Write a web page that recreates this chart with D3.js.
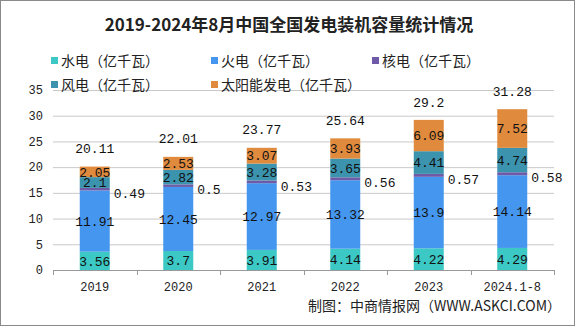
<!DOCTYPE html>
<html><head><meta charset="utf-8">
<script src="https://cdn.jsdelivr.net/npm/d3@7"></script>
<style>html,body{margin:0;padding:0;background:#fff}svg{display:block}</style>
</head><body>
<svg id="c" width="575" height="326"></svg>
<script>
const categories = ["2019","2020","2021","2022","2023","2024.1-8"];
const hydro   = [3.56, 3.7, 3.91, 4.14, 4.22, 4.29];
const thermal = [11.91, 12.45, 12.97, 13.32, 13.9, 14.14];
const nuclear = [0.49, 0.5, 0.53, 0.56, 0.57, 0.58];
const wind    = [2.1, 2.82, 3.28, 3.65, 4.41, 4.74];
const solar   = [2.05, 2.53, 3.07, 3.93, 6.09, 7.52];
const totals  = [20.11, 22.01, 23.77, 25.64, 29.2, 31.28];
const seriesNames = ["水电（亿千瓦）","火电（亿千瓦）","核电（亿千瓦）","风电（亿千瓦）","太阳能发电（亿千瓦）"];
const yTicks = [0,5,10,15,20,25,30,35];
const colors = ["#3cc8c4","#4596ee","#6e5aa6","#3b93ad","#e08a3e"];
const seriesData = [hydro, thermal, nuclear, wind, solar];

const svg = d3.select("#c");
const W = 575, H = 326;
const mono = "'Liberation Mono','DejaVu Sans Mono',monospace";
const cjk = "'Noto Sans CJK SC','Noto Sans',sans-serif";

svg.append("rect").attr("x",0.5).attr("y",0.5).attr("width",W-1).attr("height",H-1)
  .attr("fill","#fff").attr("stroke","#8a8a8a");

const x = d3.scaleBand().domain(categories).range([53,554]).paddingInner(0).paddingOuter(0);
const y = d3.scaleLinear().domain([0,35]).range([270,90]);
const bw = 30;

// gridlines
svg.append("g").selectAll("line").data(yTicks.filter(d=>d>0)).join("line")
  .attr("x1",53).attr("x2",554).attr("y1",d=>y(d)+0.5).attr("y2",d=>y(d)+0.5)
  .attr("stroke","#c9c9c9");

// y labels
svg.append("g").selectAll("text").data(yTicks).join("text")
  .attr("x",43).attr("y",d=>y(d)).attr("dy","0.36em").attr("text-anchor","end")
  .attr("font-family",mono).attr("font-size",12).attr("fill","#222").text(d=>d);

// stacks
const rows = categories.map((c,i)=>{const o={cat:c}; seriesData.forEach((s,k)=>o["s"+k]=s[i]); return o;});
const stack = d3.stack().keys([0,1,2,3,4].map(k=>"s"+k))(rows);
const gBars = svg.append("g");
stack.forEach((layer,k)=>{
  gBars.selectAll(null).data(layer).join("rect")
    .attr("x",d=>x(d.data.cat)+x.bandwidth()/2-bw/2)
    .attr("width",bw)
    .attr("y",d=>y(d[1]))
    .attr("height",d=>y(d[0])-y(d[1]))
    .attr("fill",colors[k]);
});

const fmt = v => String(v);
const lbl = svg.append("g").attr("font-family",mono).attr("font-size",13).attr("fill","#111");
stack.forEach((layer,k)=>{
  layer.forEach(d=>{
    const cx = x(d.data.cat)+x.bandwidth()/2;
    const v = d.data["s"+k];
    if(k===2){
      lbl.append("text").attr("x",cx+bw/2+4).attr("y",y((d[0]+d[1])/2)+4).attr("dy","0.36em")
        .attr("text-anchor","start").text(fmt(v));
    } else {
      lbl.append("text").attr("x",cx).attr("y",y((d[0]+d[1])/2)).attr("dy","0.36em")
        .attr("text-anchor","middle").text(fmt(v));
    }
  });
});
// totals
lbl.selectAll(null).data(categories).join("text")
  .attr("x",d=>x(d)+x.bandwidth()/2).attr("y",(d,i)=>y(totals[i])-18).attr("dy","0.36em")
  .attr("text-anchor","middle").text((d,i)=>fmt(totals[i]));

// x axis
const xa = svg.append("g");
xa.append("line").attr("x1",53).attr("x2",554).attr("y1",270.5).attr("y2",270.5).attr("stroke","#999");
const tickX = categories.map(c=>x(c)).concat([x.range()[1]]);
xa.selectAll(null).data(tickX).join("line")
  .attr("x1",d=>Math.round(d)+0.5).attr("x2",d=>Math.round(d)+0.5).attr("y1",270).attr("y2",275).attr("stroke","#999");
xa.selectAll(null).data(categories).join("text")
  .attr("x",d=>x(d)+x.bandwidth()/2).attr("y",287).attr("dy","0.36em").attr("text-anchor","middle")
  .attr("font-family",mono).attr("font-size",12).attr("fill","#222").text(d=>d);

// title
svg.append("text").attr("x",289).attr("y",25).attr("dy","0.36em").attr("text-anchor","middle")
  .attr("font-family",cjk).attr("font-weight","bold").attr("font-size",17).attr("fill","#222")
  .text("2019-2024年8月中国全国发电装机容量统计情况");

// legend
const legPos = [[51,60],[211,60],[372,60],[51,84],[211,84]];
const leg = svg.append("g");
seriesNames.forEach((n,k)=>{
  const [lx,ly] = legPos[k];
  leg.append("rect").attr("x",lx).attr("y",ly-3).attr("width",7).attr("height",7).attr("fill",colors[k]);
  leg.append("text").attr("x",lx+10).attr("y",ly+1).attr("dy","0.36em")
    .attr("font-family",cjk).attr("font-size",14).attr("fill","#222").text(n);
});

// source
svg.append("text").attr("x",561).attr("y",306).attr("dy","0.36em").attr("text-anchor","end")
  .attr("font-family",cjk).attr("font-size",14).attr("fill","#222").text("制图：中商情报网（WWW.ASKCI.COM）");
</script>
</body></html>
